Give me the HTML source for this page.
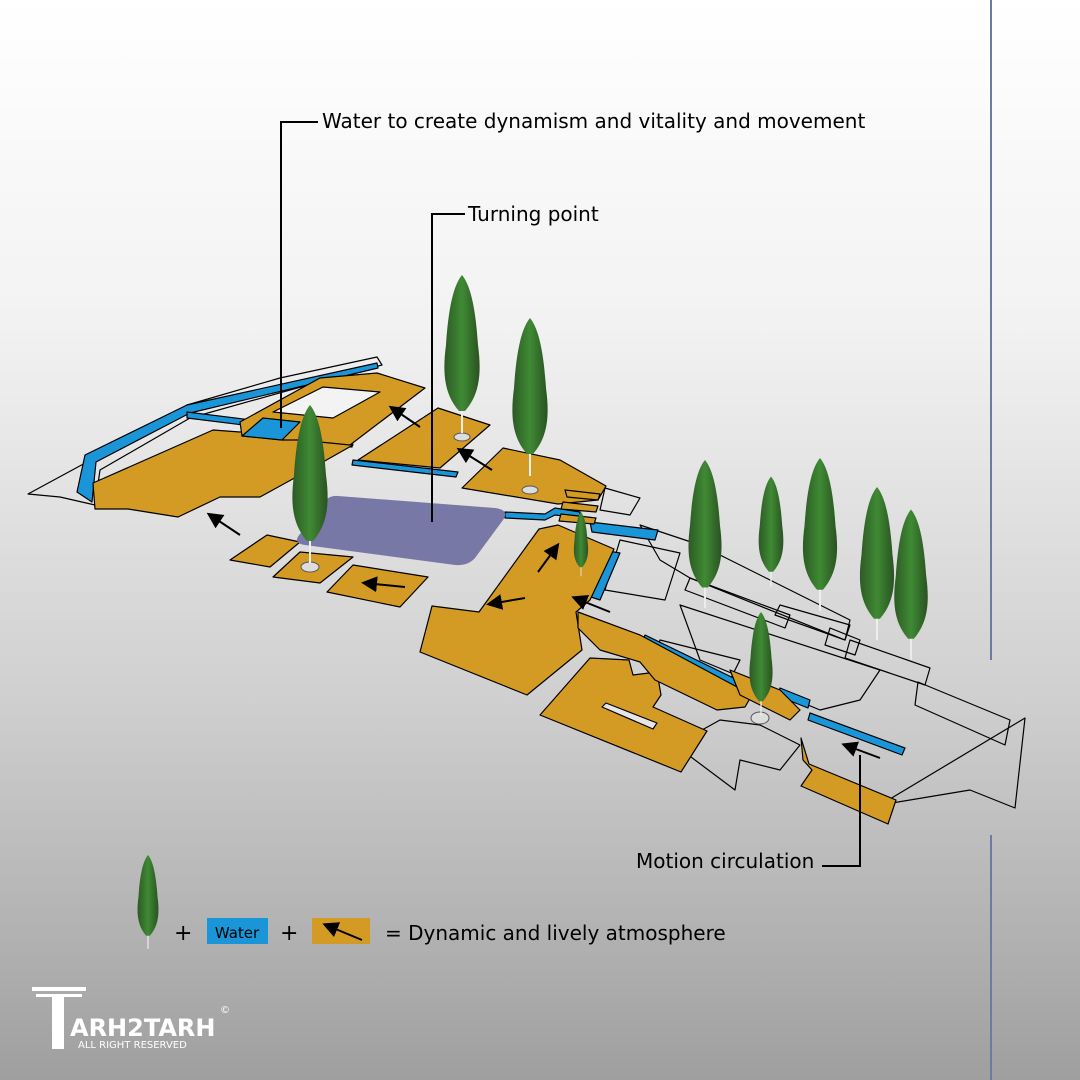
<!DOCTYPE html>
<html><head><meta charset="utf-8"><style>
html,body{margin:0;padding:0}
body{width:1080px;height:1080px;overflow:hidden;background:linear-gradient(#ffffff 0%,#f2f2f2 30%,#cfcfcf 65%,#9f9f9f 100%);font-family:"DejaVu Sans",sans-serif}
svg{position:absolute;left:0;top:0}
</style></head><body>
<svg width="1080" height="1080" viewBox="0 0 1080 1080">
<defs>
<linearGradient id="tg" x1="0" x2="1"><stop offset="0" stop-color="#2d5a25"/><stop offset="0.5" stop-color="#3f8a34"/><stop offset="1" stop-color="#2a5222"/></linearGradient>
<marker id="ah" markerWidth="8" markerHeight="8" refX="6" refY="4" orient="auto"><path d="M0,0 L8,4 L0,8 z" fill="#000"/></marker>
<symbol id="tree" viewBox="0 0 40 160">
<line x1="20" y1="120" x2="20" y2="158" stroke="#eee" stroke-width="2"/>
<path d="M20,0 C30,12 34,40 36,70 C40,100 37,120 23,136 L17,136 C3,120 0,100 4,70 C6,40 10,12 20,0z" fill="url(#tg)"/>
</symbol>
</defs>
<line x1="991" y1="0" x2="991" y2="660" stroke="#6e7aa6" stroke-width="2"/>
<line x1="991" y1="835" x2="991" y2="1080" stroke="#6e7aa6" stroke-width="2"/>
<g stroke="#000" stroke-width="1.2" stroke-linejoin="round">
<polygon points="28,494 100,455 187,405 280,378 377,357 382,365 290,390 190,418 100,470 95,505 60,497" fill="none"/>
<polygon points="605,488 640,498 630,515 600,510" fill="none"/>
<polygon points="620,540 680,553 665,600 605,590" fill="none"/>
<polygon points="640,525 700,545 850,620 845,640 690,578 660,560" fill="none"/>
<polygon points="690,578 790,615 785,628 685,590" fill="none"/>
<polygon points="780,605 850,625 845,640 775,615" fill="none"/>
<polygon points="830,628 860,640 855,655 825,645" fill="none"/>
<polygon points="850,640 930,668 925,685 845,658" fill="none"/>
<polygon points="680,605 880,670 860,700 820,710 700,660" fill="none"/>
<polygon points="918,682 1010,720 1005,745 915,705" fill="none"/>
<polygon points="675,745 720,720 760,725 800,745 780,770 740,760 735,790" fill="none"/>
<polygon points="880,805 1025,718 1015,808 970,790" fill="none"/>
<polygon points="660,640 740,660 720,700 650,672" fill="none"/>
<polygon points="77,492 85,455 187,405 377,363 378,368 190,413 96,462 92,502" fill="#1a96d8"/>
<polygon points="187,412 300,426 300,432 187,418" fill="#1a96d8"/>
<polygon points="310,438 353,442 352,447 310,444" fill="#1a96d8"/>
<polygon points="353,460 458,472 456,477 352,465" fill="#1a96d8"/>
<polygon points="505,512 545,514 555,508 580,512 580,518 555,515 545,520 505,518" fill="#1a96d8"/>
<polygon points="590,522 640,528 658,530 655,540 592,532" fill="#1a96d8"/>
<polygon points="608,551 620,553 600,600 591,597" fill="#1a96d8"/>
<polygon points="645,635 754,688 752,696 642,642" fill="#1a96d8"/>
<polygon points="780,688 810,700 808,708 778,696" fill="#1a96d8"/>
<polygon points="810,713 905,748 902,755 808,720" fill="#1a96d8"/>
<g fill="#d49b24">
<polygon points="93,483 213,430 240,432 300,427 353,445 300,475 260,497 220,497 178,517 128,509 95,509"/>
<polygon points="240,422 320,378 377,373 425,388 350,445 300,440 282,440 242,436"/>
<polygon points="358,460 438,408 490,425 440,468"/>
<polygon points="462,488 503,448 560,460 606,486 598,500 558,504"/>
<polygon points="230,560 267,535 300,542 270,567"/>
<polygon points="273,577 300,552 353,557 320,583"/>
<polygon points="327,592 353,565 428,577 400,607"/>
<polygon points="420,652 432,606 479,612 539,529 558,525 614,549 590,600 576,612 582,650 527,695"/>
<polygon points="540,715 590,658 629,660 633,675 657,672 661,695 653,707 707,731 681,772"/>
<polygon points="578,612 640,635 752,695 745,707 717,710 655,680 640,662 600,650 578,628"/>
<polygon points="730,670 780,690 800,710 790,720 740,695"/>
<polygon points="801,738 809,764 896,800 888,824 801,786 812,770 803,760"/>
<polygon points="565,490 600,494 598,500 567,497"/>
<polygon points="563,502 598,506 596,512 561,509"/>
<polygon points="561,514 596,518 594,524 559,521"/>
</g>
<polygon points="273,412 323,387 380,392 333,418" fill="#f3f3f3"/>
<polygon points="602,707 606,703 657,723 653,729" fill="#e6e6e6"/>
<polygon points="242,436 263,418 300,422 282,440" fill="#1a96d8"/>
</g>
<path d="M338,496 L495,508 Q510,510 503,520 L475,558 Q468,566 455,565 L305,545 Q292,543 300,534 L325,501 Q330,495 338,496Z" fill="#7878a6"/>
<g stroke="#000" stroke-width="2" marker-end="url(#ah)">
<line x1="240" y1="535" x2="210" y2="515"/>
<line x1="420" y1="427" x2="392" y2="408"/>
<line x1="492" y1="470" x2="460" y2="450"/>
<line x1="405" y1="587" x2="365" y2="583"/>
<line x1="525" y1="598" x2="490" y2="604"/>
<line x1="538" y1="572" x2="557" y2="546"/>
<line x1="610" y1="612" x2="575" y2="598"/>
<line x1="880" y1="758" x2="845" y2="745"/>
</g>
<g>
<ellipse cx="462" cy="437" rx="8" ry="4" fill="#ddd" stroke="#555"/>
<use href="#tree" x="442" y="275" width="40" height="160"/>
<ellipse cx="530" cy="490" rx="8" ry="4" fill="#ddd" stroke="#555"/>
<use href="#tree" x="510" y="318" width="40" height="160"/>
<ellipse cx="310" cy="567" rx="9" ry="5" fill="#ddd" stroke="#555"/>
<use href="#tree" x="290" y="405" width="40" height="160"/>
<use href="#tree" x="570" y="512" width="22" height="65"/>
<use href="#tree" x="684" y="460" width="42" height="150"/>
<use href="#tree" x="757" y="475" width="28" height="115"/>
<use href="#tree" x="800" y="458" width="40" height="155"/>
<use href="#tree" x="857" y="487" width="40" height="155"/>
<use href="#tree" x="892" y="508" width="38" height="155"/>
<ellipse cx="760" cy="718" rx="9" ry="6" fill="#ddd" stroke="#555"/>
<use href="#tree" x="745" y="612" width="32" height="105"/>
<use href="#tree" x="135" y="855" width="26" height="95"/>
</g>
<g stroke="#000" stroke-width="2" fill="none">
<polyline points="318,122 281,122 281,428"/>
<polyline points="465,214 432,214 432,522"/>
<polyline points="822,866 860,866 860,755"/>
</g>
<g font-family="DejaVu Sans, sans-serif" font-size="20" fill="#000">
<text x="322" y="128">Water to create dynamism and vitality and movement</text>
<text x="468" y="221">Turning point</text>
<text x="636" y="868">Motion circulation</text>
<text x="174" y="940" font-size="22">+</text>
<text x="280" y="940" font-size="22">+</text>
<text x="385" y="940">= Dynamic and lively atmosphere</text>
</g>
<rect x="207" y="918" width="61" height="26" fill="#1a96d8"/>
<text x="237" y="938" text-anchor="middle" font-size="15" fill="#000" font-family="DejaVu Sans, sans-serif">Water</text>
<rect x="312" y="918" width="58" height="26" fill="#d49b24"/>
<line x1="362" y1="940" x2="326" y2="925" stroke="#000" stroke-width="2" marker-end="url(#ah)"/>
<g fill="#fff" font-family="DejaVu Sans, sans-serif">
<rect x="32" y="987" width="54" height="4"/><rect x="36" y="994" width="46" height="3"/>
<rect x="52" y="997" width="12" height="52"/>
<text x="70" y="1036" font-size="24" font-weight="bold">ARH2TARH</text>
<text x="78" y="1048" font-size="10">ALL RIGHT RESERVED</text>
<text x="220" y="1013" font-size="10">©</text>
</g>
</svg>
</body></html>
